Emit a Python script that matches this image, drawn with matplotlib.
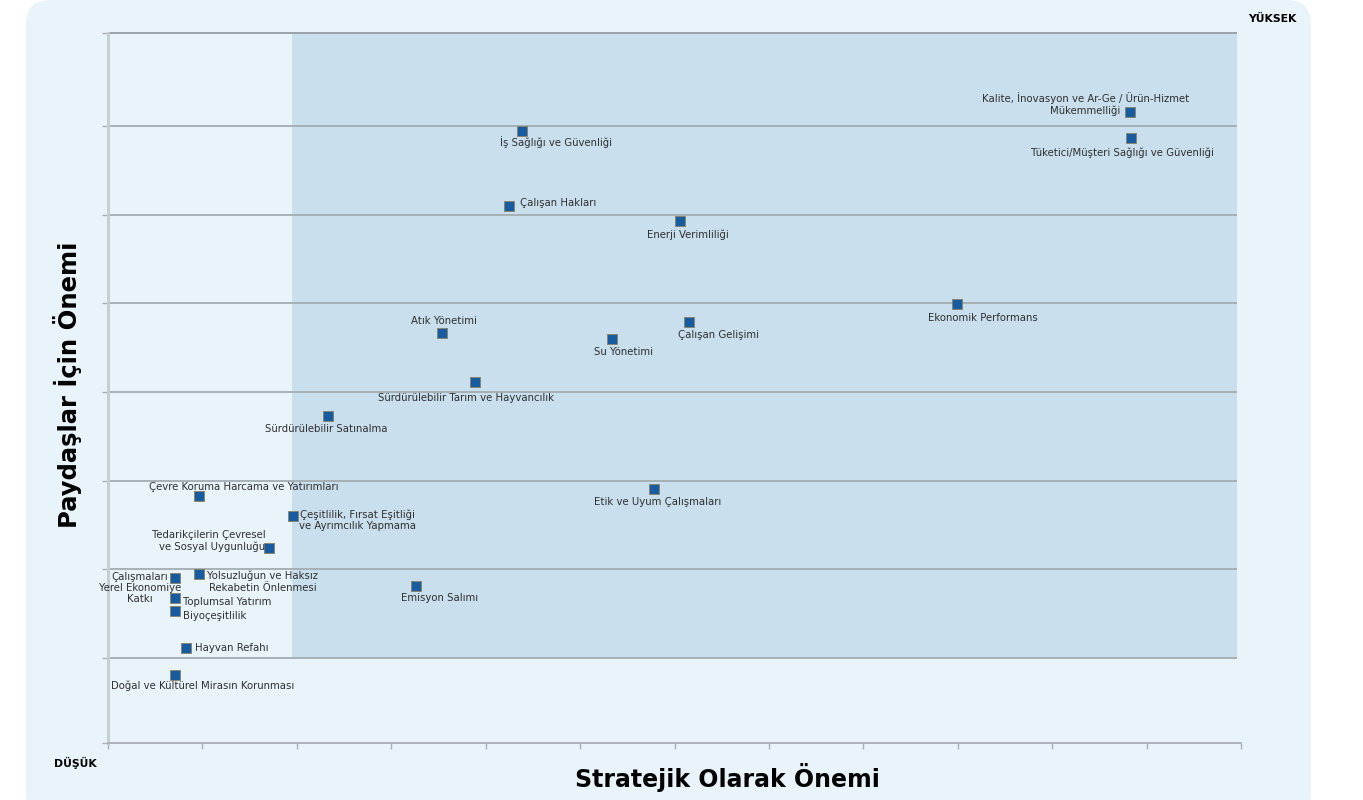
import matplotlib
matplotlib.use("Agg")
import matplotlib.pyplot as plt
from matplotlib.patches import FancyBboxPatch, Rectangle

# ---------------- data ----------------
labels = [
    "Kalite, İnovasyon ve Ar-Ge / Ürün-Hizmet\nMükemmelliği",
    "Tüketici/Müşteri Sağlığı ve Güvenliği",
    "İş Sağlığı ve Güvenliği",
    "Çalışan Hakları",
    "Enerji Verimliliği",
    "Ekonomik Performans",
    "Atık Yönetimi",
    "Su Yönetimi",
    "Çalışan Gelişimi",
    "Sürdürülebilir Tarım ve Hayvancılık",
    "Sürdürülebilir Satınalma",
    "Çevre Koruma Harcama ve Yatırımları",
    "Etik ve Uyum Çalışmaları",
    "Çeşitlilik, Fırsat Eşitliği\nve Ayrımcılık Yapmama",
    "Tedarikçilerin Çevresel\nve Sosyal Uygunluğu",
    "Yolsuzluğun ve Haksız\nRekabetin Önlenmesi",
    "Çalışmaları\nYerel Ekonomiye\nKatkı",
    "Toplumsal Yatırım",
    "Biyoçeşitlilik",
    "Hayvan Refahı",
    "Doğal ve Kültürel Mirasın Korunması",
    "Emisyon Salımı",
]
strategic = [10.82, 10.83, 4.38, 4.25, 6.06, 8.99, 3.54, 5.34, 6.15, 3.89, 2.33,
             0.96, 5.78, 1.96, 1.71, 0.96, 0.71, 0.71, 0.71, 0.83, 0.71, 3.26]
stakeholder = [7.16, 6.86, 6.95, 6.10, 5.93, 4.99, 4.66, 4.60, 4.79, 4.11, 3.73,
               2.83, 2.90, 2.60, 2.24, 1.95, 1.90, 1.68, 1.53, 1.11, 0.81, 1.81]

x_title = "Stratejik Olarak Önemi"
y_title = "Paydaşlar İçin Önemi"
high_label = "YÜKSEK"
low_label = "DÜŞÜK"

# ---------------- layout (label offsets in pixels, alignment) ----------------
label_layout = [
    (-44, 8, "center"),
    (-8, -14, "center"),
    (34, -12, "center"),
    (11, 3, "left"),
    (8, -14, "center"),
    (26, -14, "center"),
    (2, 12, "center"),
    (11, -13, "center"),
    (30, -13, "center"),
    (-9, -16, "center"),
    (-2, -13, "center"),
    (45, 9, "center"),
    (4, -13, "center"),
    (64, -4, "center"),
    (-4, 7, "right"),
    (64, -8, "center"),
    (-35, -10, "center"),
    (8, -4, "left"),
    (8, -5, "left"),
    (9, 0, "left"),
    (28, -11, "center"),
    (24, -12, "center"),
]

W, H = 1363, 800
fig = plt.figure(figsize=(W / 100, H / 100), dpi=100)
fig.patch.set_facecolor("white")

# outer rounded panel
panel = FancyBboxPatch((26 / W, -20 / H), (1311 - 26) / W, (820) / H,
                       boxstyle="round,pad=0,rounding_size=0.018",
                       transform=fig.transFigure, facecolor="#e9f4fa",
                       edgecolor="none", zorder=-5, mutation_aspect=W / H)
fig.patches.append(panel)

left, right, top, bottom = 108, 1241, 33, 743
ax = fig.add_axes([left / W, 1 - bottom / H, (right - left) / W, (bottom - top) / H])
ax.set_facecolor("none")
ax.set_zorder(2)

ymin, ymax = 0.04, 8.05
ax.set_xlim(0, 12)
ax.set_ylim(ymin, ymax)

# shaded high-importance region
ax.add_patch(Rectangle((1.95, 1.0), 11.96 - 1.95, ymax - 1.0,
                       facecolor="#c9dfee", edgecolor="none", zorder=1))

# gridlines
for g in range(1, 8):
    ax.plot([0, 11.96], [g, g], color="#a3abb2", lw=1.3, zorder=2, solid_capstyle="butt")
ax.plot([0, 11.96], [ymax, ymax], color="#9aa3aa", lw=1.4, zorder=2, clip_on=False,
        solid_capstyle="butt")

for s in ["top", "right"]:
    ax.spines[s].set_visible(False)
ax.spines["left"].set_color("#c6ccd0")
ax.spines["left"].set_linewidth(2.0)
ax.spines["bottom"].set_color("#a8aeb3")
ax.spines["bottom"].set_linewidth(1.3)

ax.set_xticks(range(0, 13))
ax.set_yticks([ymin] + list(range(1, 8)) + [ymax])
ax.tick_params(axis="both", length=4, width=1.0, color="#a8aeb3",
               labelbottom=False, labelleft=False)

# points
ax.scatter(strategic, stakeholder, marker="s", s=62, c="#175ca0",
           edgecolors="#8c8060", linewidths=0.6, zorder=5)

for lab, xv, yv, (dx, dy, ha) in zip(labels, strategic, stakeholder, label_layout):
    ax.annotate(lab, (xv, yv), xytext=(dx, dy), textcoords="offset pixels",
                ha=ha, va="center", multialignment=ha, fontsize=7.3,
                color="#2e2e2e", zorder=6, linespacing=1.15)

# titles
fig.text(727 / W, 1 - 778 / H, x_title, ha="center", va="center",
         fontsize=17, fontweight="bold", color="#000000")
fig.text(68 / W, 1 - 385 / H, y_title, ha="center", va="center", rotation=90,
         fontsize=17.5, fontweight="bold", color="#000000")
fig.text(1272 / W, 1 - 19 / H, high_label, ha="center", va="center",
         fontsize=7.8, fontweight="bold", color="#000000")
fig.text(75 / W, 1 - 763 / H, low_label, ha="center", va="center",
         fontsize=7.8, fontweight="bold", color="#000000")

fig.savefig("out.png", dpi=100)
